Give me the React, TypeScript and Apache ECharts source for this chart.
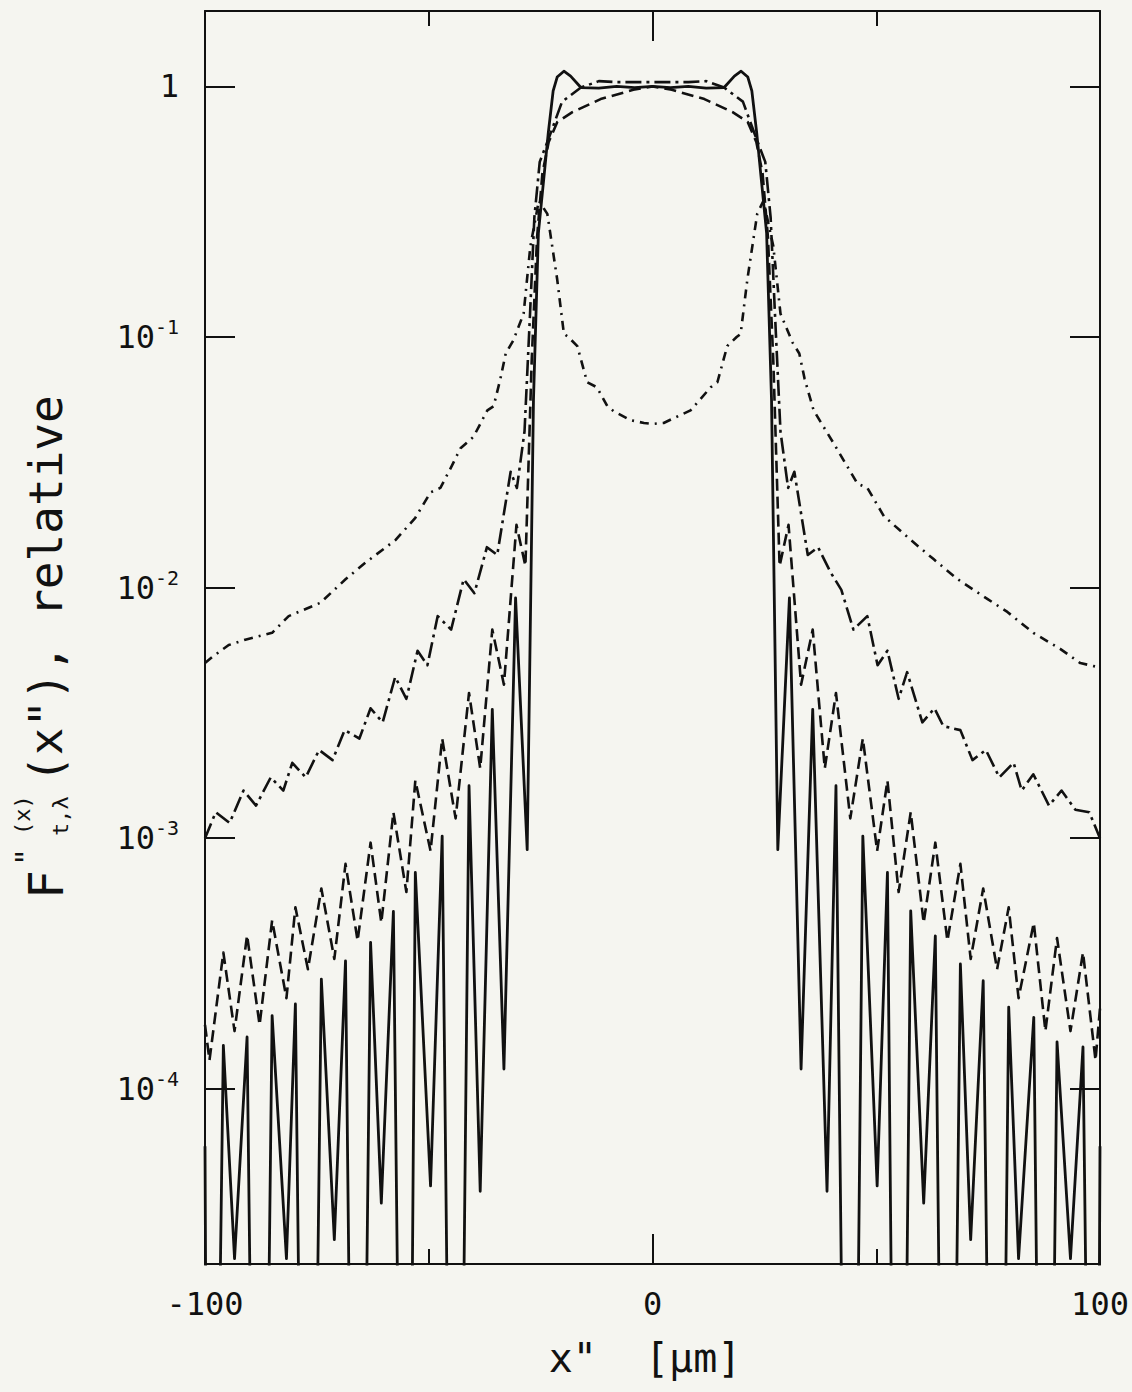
import React, { useEffect, useRef } from 'react';
import * as echarts from 'echarts';

// ---- tick labels ----
const xTickValues = [-100, 0, 100];
const xTickLabels = ['-100', '0', '100'];
const yTickValues = [1, 0.1, 0.01, 0.001, 0.0001];
const yTickLabels = ['1', '10{s|-1}', '10{s|-2}', '10{s|-3}', '10{s|-4}'];

// ---- series: solid ----
const solidPts: number[][] = [
  [-100, 5.9e-5], [-99.0, 1e-8], [-95.9, 1.49e-4], [-93.4, 2.1e-5], [-90.6, 1.61e-4], [-87.8, 1e-8],
  [-85.0, 1.96e-4], [-81.8, 2.1e-5], [-79.8, 2.18e-4], [-77.0, 1e-8], [-74.0, 2.74e-4], [-71.1, 2.5e-5],
  [-68.6, 3.24e-4], [-65.9, 1e-8], [-63.0, 3.84e-4], [-60.6, 3.5e-5], [-57.9, 5.1e-4], [-55.0, 1e-8],
  [-53.0, 7.3e-4], [-49.6, 4.1e-5], [-47.0, 1.02e-3], [-44.0, 1e-8], [-41.0, 1.62e-3], [-38.5, 3.9e-5],
  [-35.8, 3.27e-3], [-33.2, 1.2e-4], [-30.6, 9.1e-3], [-28.0, 9.0e-4], [-26.6, 0.056], [-25.5, 0.26],
  [-24.4, 0.41], [-23.3, 0.65], [-22.2, 0.96], [-21.3, 1.09], [-19.8, 1.15], [-18.3, 1.10], [-16.0, 0.99],
  [-12.0, 0.985], [-8.0, 1.0], [-4.0, 0.99], [0, 1.0],
  [4.0, 0.99], [8.0, 1.0], [12.0, 0.985], [16.0, 0.99], [18.3, 1.10], [19.8, 1.15], [21.3, 1.09],
  [22.2, 0.96], [23.3, 0.65], [24.4, 0.41], [25.5, 0.26], [26.6, 0.056], [28.0, 9.0e-4], [30.6, 9.1e-3],
  [33.2, 1.2e-4], [35.8, 3.27e-3], [39.0, 3.9e-5], [41.0, 1.62e-3], [44.2, 1e-8], [47.0, 1.02e-3],
  [50.2, 4.1e-5], [52.5, 7.3e-4], [55.0, 1e-8], [57.7, 5.13e-4], [60.6, 3.5e-5], [63.2, 4.08e-4],
  [65.9, 1e-8], [68.8, 3.15e-4], [71.1, 2.5e-5], [73.9, 2.70e-4], [77.0, 1e-8], [79.6, 2.12e-4],
  [81.8, 2.1e-5], [85.2, 1.93e-4], [87.8, 1e-8], [90.4, 1.54e-4], [93.4, 2.1e-5], [96.2, 1.47e-4],
  [99.0, 1e-8], [100, 5.9e-5],
];

// ---- series: short dashes ----
const dashPts: number[][] = [
  [-100, 1.8e-4], [-99.0, 1.3e-4], [-95.9, 3.5e-4], [-93.4, 1.7e-4], [-90.6, 4.1e-4], [-87.8, 1.8e-4],
  [-85.0, 4.7e-4], [-81.8, 2.3e-4], [-79.8, 5.3e-4], [-77.0, 3.0e-4], [-74.0, 6.3e-4], [-71.1, 3.3e-4],
  [-68.6, 7.9e-4], [-65.9, 3.9e-4], [-63.0, 9.6e-4], [-60.6, 4.6e-4], [-57.9, 1.27e-3], [-55.0, 6.1e-4],
  [-53.0, 1.7e-3], [-49.6, 8.9e-4], [-47.0, 2.5e-3], [-44.0, 1.2e-3], [-41.0, 3.8e-3], [-38.5, 1.9e-3],
  [-35.8, 6.8e-3], [-33.2, 4.1e-3], [-30.4, 0.0178], [-28.4, 0.0122], [-27.0, 0.08], [-25.8, 0.25],
  [-24.6, 0.45], [-23.2, 0.6], [-21.3, 0.72], [-17.9, 0.79], [-11.6, 0.89], [-4.3, 0.97], [0, 1.0],
  [4.3, 0.97], [11.6, 0.89], [17.9, 0.79], [21.3, 0.72], [23.2, 0.6], [24.6, 0.45], [25.8, 0.25],
  [27.0, 0.08], [28.4, 0.0122], [30.4, 0.0178], [33.2, 4.1e-3], [35.8, 6.8e-3], [38.5, 1.9e-3],
  [41.0, 3.8e-3], [44.2, 1.2e-3], [47.0, 2.5e-3], [50.2, 8.9e-4], [52.5, 1.7e-3], [55.0, 6.1e-4],
  [57.7, 1.27e-3], [60.6, 4.6e-4], [63.2, 9.6e-4], [65.9, 3.9e-4], [68.8, 7.9e-4], [71.1, 3.3e-4],
  [73.9, 6.3e-4], [77.0, 3.0e-4], [79.6, 5.3e-4], [81.8, 2.3e-4], [85.2, 4.6e-4], [87.8, 1.7e-4],
  [90.4, 4.0e-4], [93.4, 1.7e-4], [96.2, 3.5e-4], [99.0, 1.3e-4], [100, 2.1e-4],
];

// ---- series: long dash-dot ----
const longDashPts: number[][] = [
  [-100, 1.0e-3], [-97.6, 1.27e-3], [-94.5, 1.15e-3], [-91.4, 1.55e-3], [-88.6, 1.35e-3], [-85.3, 1.75e-3],
  [-82.5, 1.55e-3], [-80.5, 2.0e-3], [-77.5, 1.75e-3], [-74.5, 2.25e-3], [-71.5, 2.05e-3], [-68.8, 2.7e-3],
  [-65.5, 2.5e-3], [-63.0, 3.3e-3], [-60.3, 2.9e-3], [-57.5, 4.4e-3], [-55.0, 3.6e-3], [-52.5, 5.6e-3],
  [-50.3, 4.9e-3], [-48.0, 7.7e-3], [-45.0, 6.8e-3], [-42.2, 0.0108], [-39.8, 0.0095], [-37.0, 0.0145],
  [-34.7, 0.0135], [-31.7, 0.029], [-30.3, 0.025], [-28.6, 0.042], [-27.4, 0.12], [-26.4, 0.3],
  [-25.2, 0.5], [-23.2, 0.62], [-20.2, 0.87], [-16.0, 0.99], [-12.0, 1.05], [-8.0, 1.04], [-4.0, 1.04],
  [0, 1.04],
  [4.0, 1.04], [8.0, 1.04], [12.0, 1.05], [16.0, 0.99], [20.2, 0.87], [23.2, 0.62], [25.2, 0.5],
  [26.4, 0.3], [27.4, 0.12], [28.6, 0.042], [30.3, 0.025], [31.7, 0.029], [34.7, 0.0135], [37.0, 0.0145],
  [39.8, 0.0115], [42.2, 0.0098], [44.9, 6.8e-3], [48.0, 7.7e-3], [50.3, 4.9e-3], [52.5, 5.6e-3],
  [55.0, 3.6e-3], [56.9, 4.6e-3], [60.3, 2.9e-3], [63.0, 3.3e-3], [65.0, 2.8e-3], [68.8, 2.7e-3],
  [71.5, 2.05e-3], [74.5, 2.25e-3], [77.5, 1.75e-3], [80.7, 2.0e-3], [82.5, 1.55e-3], [85.1, 1.8e-3],
  [88.6, 1.35e-3], [91.4, 1.55e-3], [94.5, 1.3e-3], [97.6, 1.27e-3], [100, 1.0e-3],
];

// ---- series: dash-dot (centre dip) ----
const dotDashPts: number[][] = [
  [-100, 0.0050], [-98.3, 0.0053], [-94.7, 0.0059], [-91.0, 0.0062], [-85.0, 0.0066], [-81.3, 0.0077],
  [-74.2, 0.0087], [-68.6, 0.0108], [-64.1, 0.0126], [-57.4, 0.0155], [-53.0, 0.019], [-49.6, 0.024],
  [-47.4, 0.025], [-45.1, 0.030], [-42.9, 0.036], [-40.0, 0.040], [-36.9, 0.051], [-35.5, 0.053],
  [-34.0, 0.068], [-32.8, 0.086], [-31.1, 0.097], [-28.8, 0.124], [-27.3, 0.23], [-25.4, 0.35],
  [-23.5, 0.31], [-21.3, 0.17], [-19.8, 0.103], [-18.8, 0.10], [-16.8, 0.092], [-14.6, 0.066],
  [-12.4, 0.063], [-10.1, 0.053], [-8.6, 0.0505], [-4.9, 0.0466], [-1.9, 0.0454], [0, 0.045],
  [2.5, 0.0454], [4.8, 0.0475], [8.5, 0.051], [13.0, 0.063], [14.5, 0.066], [16.7, 0.092], [18.8, 0.10],
  [19.7, 0.103], [21.2, 0.17], [23.4, 0.31], [24.8, 0.35], [27.0, 0.23], [28.6, 0.124], [31.3, 0.095],
  [32.8, 0.086], [34.0, 0.068], [36.0, 0.051], [40.5, 0.0376], [45.8, 0.026], [48.0, 0.025],
  [51.7, 0.0193], [57.7, 0.0155], [62.8, 0.013], [68.2, 0.0108], [74.9, 0.009], [79.3, 0.008],
  [85.1, 0.0066], [91.1, 0.0057], [95.6, 0.005], [100, 0.0048],
];

const FONT = '"DejaVu Sans Mono", "Liberation Mono", monospace';
const INK = '#111111';
const BG = '#f5f5f0';

export default function App() {
  const ref = useRef<HTMLDivElement>(null);

  useEffect(() => {
    if (!ref.current) return;
    const chart = echarts.init(ref.current, null, { renderer: 'svg' });

    const lineStyle = { color: INK, width: 2 };
    const xAxisBase = (pos: string, labels: boolean) => ({
      type: 'value',
      position: pos,
      min: -100,
      max: 100,
      interval: 100,
      axisLine: { show: true, onZero: false, lineStyle },
      axisTick: { show: true, inside: true, length: 30, lineStyle },
      minorTick: { show: true, splitNumber: 2, length: 15, lineStyle },
      splitLine: { show: false },
      minorSplitLine: { show: false },
      axisLabel: {
        show: labels,
        margin: 24,
        fontFamily: FONT,
        fontSize: 32,
        color: INK,
        formatter: (v: number) => {
          const i = xTickValues.indexOf(Math.round(v));
          return i >= 0 ? xTickLabels[i] : '';
        },
      },
    });
    const yAxisBase = (pos: string, labels: boolean) => ({
      type: 'log',
      logBase: 10,
      position: pos,
      min: 2e-5,
      max: 2,
      axisLine: { show: true, onZero: false, lineStyle },
      axisTick: { show: true, inside: true, length: 30, lineStyle },
      splitLine: { show: false },
      axisLabel: {
        show: labels,
        margin: 26,
        fontFamily: FONT,
        fontSize: 32,
        color: INK,
        rich: {
          s: { fontFamily: FONT, fontSize: 20, color: INK, padding: [0, 0, 20, 0] },
        },
        formatter: (v: number) => {
          const lv = Math.log10(v);
          for (let i = 0; i < yTickValues.length; i++) {
            if (Math.abs(Math.log10(yTickValues[i]) - lv) < 1e-6) return yTickLabels[i];
          }
          return '';
        },
      },
    });

    const mk = (data: number[][], type: any, width: number) => ({
      type: 'line',
      data,
      xAxisIndex: 0,
      yAxisIndex: 0,
      showSymbol: false,
      symbol: 'none',
      smooth: false,
      clip: true,
      lineStyle: { color: INK, width, type, cap: 'butt', join: 'round' },
    });

    const titleText = (text: string, x: number, y: number, size: number) => ({
      type: 'text',
      x,
      y,
      rotation: Math.PI / 2,
      silent: true,
      style: {
        text,
        fill: INK,
        font: `${size}px ${FONT}`,
        align: 'left',
        verticalAlign: 'middle',
        textAlign: 'left',
        textVerticalAlign: 'middle',
      },
    });

    chart.setOption({
      animation: false,
      backgroundColor: BG,
      grid: { left: 205, top: 11, right: 32, bottom: 128, containLabel: false },
      xAxis: [xAxisBase('bottom', true), xAxisBase('top', false)],
      yAxis: [yAxisBase('left', true), yAxisBase('right', false)],
      series: [
        mk(dotDashPts, [9, 6, 2, 6], 2.6),
        mk(longDashPts, [16, 5, 3, 5], 2.6),
        mk(dashPts, [12, 6], 2.6),
        mk(solidPts, 'solid', 2.8),
      ],
      graphic: [
        titleText('F', 46, 899, 48),
        titleText('"', 26, 866, 30),
        titleText('(x)', 22, 835, 22),
        titleText('t,λ', 60, 836, 22),
        titleText('(x"), relative', 46, 783, 46),
        {
          type: 'text',
          x: 645,
          y: 1358,
          silent: true,
          style: {
            text: 'x"  [µm]',
            fill: INK,
            font: `40px ${FONT}`,
            align: 'center',
            verticalAlign: 'middle',
            textAlign: 'center',
            textVerticalAlign: 'middle',
          },
        },
      ],
    });

    return () => chart.dispose();
  }, []);

  return (
    <div
      ref={ref}
      style={{ position: 'absolute', left: 0, top: 0, width: 1132, height: 1392, background: BG }}
    />
  );
}
